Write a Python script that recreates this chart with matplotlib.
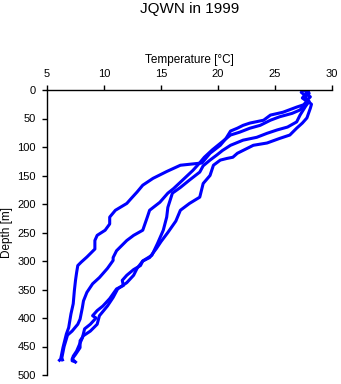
import matplotlib
matplotlib.use('Agg')
import matplotlib.pyplot as plt

plt.rcParams['font.family'] = ['Liberation Sans', 'DejaVu Sans']

# four temperature profiles (temperature in C, depth in m)
temp1 = [27.5, 27.3, 27.6, 27.4, 27.8, 27.5, 26.9, 25.7, 24.6, 24.0, 22.8, 22.2, 21.7, 21.1, 20.7,
         20.2, 19.3, 18.6, 16.7, 15.5, 14.3, 13.4, 12.9, 12.4, 12.0, 11.0, 10.5, 10.5, 10.1, 9.4,
         9.2, 9.2, 8.5, 8.0, 7.7, 7.6, 7.5, 7.4, 7.3, 7.1, 6.9, 6.7, 6.4, 6.2, 6.0]
depth1 = [0, 4, 9, 14, 20, 26, 30, 39, 44, 53, 58, 62, 67, 72, 85,
          97, 111, 128, 132, 143, 155, 167, 179, 190, 199, 211, 223, 235, 246, 255,
          264, 279, 293, 302, 308, 320, 334, 352, 375, 393, 417, 428, 452, 472, 476]

temp2 = [27.8, 28.0, 27.6, 27.9, 27.6, 27.2, 26.5, 25.4, 24.6, 23.7, 22.8, 21.9, 21.1, 20.3, 19.5,
         18.8, 18.3, 17.8, 16.9, 16.1, 15.6, 14.9, 14.0, 13.8, 13.4, 12.6, 12.0, 11.1, 10.8, 10.8,
         10.3, 9.6, 9.0, 8.5, 8.2, 8.1, 7.9, 7.7, 7.2, 6.8, 6.5, 6.3, 6.4]
depth2 = [0, 6, 12, 18, 25, 35, 41, 47, 53, 62, 67, 74, 79, 92, 105,
          118, 130, 141, 158, 173, 181, 197, 211, 223, 246, 255, 264, 282, 294, 299,
          313, 329, 340, 355, 370, 382, 402, 411, 423, 430, 450, 470, 476]

temp3 = [28.0, 27.7, 28.1, 27.8, 28.2, 28.1, 27.8, 27.4, 26.9, 26.3, 25.4, 24.3, 23.1, 22.2, 21.7,
         21.3, 20.8, 20.2, 19.6, 19.3, 18.7, 18.4, 17.5, 16.7, 16.3, 15.6, 15.0, 14.6, 14.0, 13.4,
         12.9, 12.6, 12.0, 11.2, 10.8, 10.3, 9.6, 9.4, 8.8, 8.2, 7.9, 7.9, 7.5, 7.2, 7.6]
depth3 = [0, 6, 12, 18, 25, 32, 49, 58, 67, 79, 85, 93, 97, 106, 111,
          118, 120, 123, 132, 150, 164, 188, 199, 211, 230, 250, 266, 278, 294, 300,
          313, 325, 338, 349, 364, 379, 396, 411, 423, 431, 440, 452, 464, 472, 479]

temp4 = [27.6, 27.9, 27.5, 28.0, 27.7, 27.2, 26.9, 26.1, 25.2, 24.3, 23.4, 22.2, 21.1, 20.4, 19.9,
         19.3, 18.7, 18.4, 17.5, 16.7, 16.0, 15.6, 15.5, 15.2, 14.7, 14.2, 13.4, 13.2, 12.6, 12.0,
         11.6, 11.7, 11.1, 10.5, 9.9, 9.4, 9.0, 9.3, 8.8, 8.3, 8.1, 7.9, 7.6, 7.3, 7.2, 7.5]
depth4 = [0, 7, 13, 20, 28, 44, 56, 65, 70, 76, 83, 88, 97, 106, 114,
          123, 133, 144, 158, 171, 181, 206, 223, 246, 269, 290, 300, 308, 315, 325,
          334, 343, 349, 366, 379, 387, 396, 400, 411, 419, 435, 444, 458, 467, 475, 477]

fig = plt.figure(figsize=(3.41, 3.84), dpi=100)
ax = fig.add_axes([47 / 341, 9 / 384, 285 / 341, 285 / 384])

for t, d in [(temp1, depth1), (temp2, depth2), (temp3, depth3), (temp4, depth4)]:
    ax.plot(t, d, color='#0000ff', lw=2.2, solid_joinstyle='round', solid_capstyle='butt')

ax.set_xlim(5, 30)
ax.set_ylim(500, 0)
ax.set_xticks([5, 10, 15, 20, 25, 30])
ax.set_yticks(range(0, 501, 50))

ax.xaxis.set_ticks_position('top')
ax.xaxis.set_label_position('top')
ax.spines['right'].set_visible(False)
ax.spines['bottom'].set_visible(False)
ax.spines['top'].set_linewidth(1)
ax.spines['left'].set_linewidth(1)
ax.tick_params(direction='out', length=3.6, width=1, labelsize=8, pad=4.3)

ax.set_xlabel('Temperature [\u00b0C]', fontsize=8.5, labelpad=4)
ax.set_ylabel('Depth [m]', fontsize=8.5, labelpad=3)

fig.text(189.5 / 341, 1 - 9 / 384, 'JQWN in 1999', ha='center', va='center', fontsize=11)

fig.savefig('out.png', dpi=100)
